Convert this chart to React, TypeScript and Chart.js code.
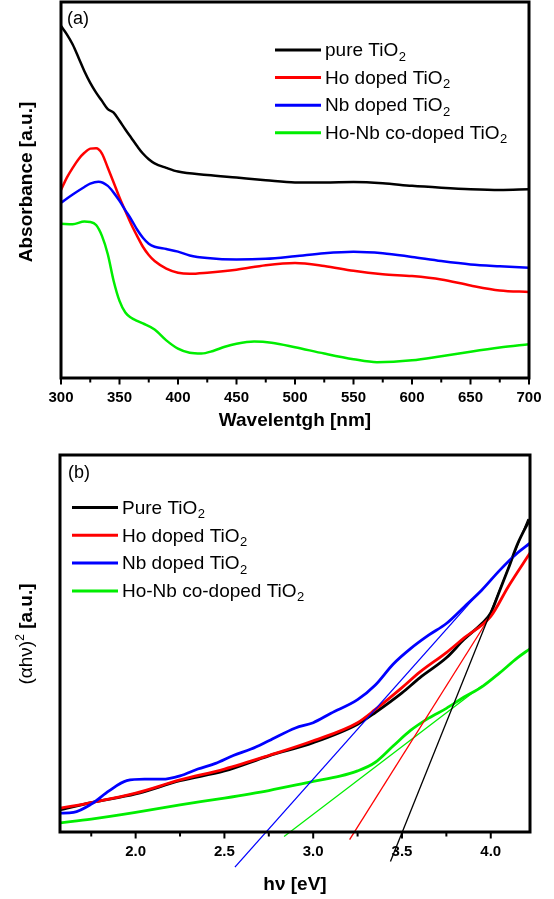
import React, { useEffect, useRef } from "react";
import { Chart, registerables } from "chart.js";

Chart.register(...registerables);

const FONT = "'Liberation Sans', Arial, Helvetica, sans-serif";

// ---------------- Panel (a): UV-Vis absorbance ----------------
const legendA = ["pure TiO", "Ho doped TiO", "Nb doped TiO", "Ho-Nb co-doped TiO"];

const wlPure = [300, 305, 310, 315, 320, 325, 330, 335, 340, 345, 350, 355, 360, 365, 370, 375, 380, 390, 400, 425, 450, 475, 500, 525, 550, 575, 600, 625, 650, 675, 700];
const absPure = [93.6, 91.4, 88.7, 85.2, 81.6, 78.5, 75.9, 73.7, 71.5, 70.6, 68.4, 66.1, 63.9, 61.7, 59.7, 58.2, 57.1, 55.9, 54.9, 54.0, 53.3, 52.6, 52.0, 52.0, 52.1, 51.8, 51.1, 50.6, 50.2, 50.0, 50.2];

const wlHo = [300, 305, 310, 315, 320, 325, 330, 335, 340, 345, 350, 355, 360, 365, 370, 375, 380, 390, 400, 410, 425, 450, 475, 500, 525, 550, 575, 600, 625, 650, 675, 700];
const absHo = [50.0, 53.3, 55.9, 58.2, 59.9, 61.0, 61.1, 59.7, 55.9, 52.0, 48.0, 44.4, 40.9, 37.8, 34.9, 32.7, 31.1, 29.1, 28.0, 27.7, 28.0, 28.8, 30.0, 30.6, 29.8, 28.5, 27.6, 27.1, 26.2, 24.6, 23.3, 22.9];

const wlNb = [300, 310, 320, 325, 332, 340, 345, 350, 355, 360, 365, 370, 375, 380, 390, 400, 410, 425, 450, 475, 500, 525, 550, 575, 600, 625, 650, 675, 700];
const absNb = [46.6, 48.8, 50.8, 51.7, 52.2, 51.1, 49.3, 47.1, 44.6, 42.2, 39.5, 37.3, 35.7, 34.9, 34.3, 33.6, 32.6, 31.9, 31.5, 31.7, 32.4, 33.2, 33.6, 33.2, 32.2, 31.1, 30.2, 29.7, 29.3];

const wlHoNb = [300, 310, 320, 325, 330, 335, 340, 345, 350, 355, 360, 365, 370, 380, 390, 400, 410, 420, 430, 440, 450, 465, 480, 500, 525, 550, 570, 600, 625, 650, 675, 700];
const absHoNb = [41.0, 40.9, 41.6, 41.5, 40.7, 37.8, 32.9, 25.8, 20.5, 17.4, 16.0, 15.2, 14.5, 12.9, 10.0, 7.8, 6.7, 6.5, 7.2, 8.3, 9.1, 9.7, 9.4, 8.2, 6.5, 5.0, 4.2, 4.7, 5.8, 7.0, 8.1, 9.0];

// ---------------- Panel (b): Tauc plot ----------------
const legendB = ["Pure TiO", "Ho doped TiO", "Nb doped TiO", "Ho-Nb co-doped TiO"];

const evPure = [1.574, 1.75, 2.0, 2.25, 2.5, 2.75, 3.0, 3.25, 3.35, 3.5, 3.6, 3.75, 3.85, 3.95, 4.0, 4.05, 4.1, 4.15, 4.221];
const tPure = [5.9, 7.8, 10.1, 13.6, 16.2, 20.2, 23.7, 28.6, 31.7, 36.9, 40.9, 46.2, 51.1, 55.3, 58.1, 64.0, 70.0, 76.3, 83.0];

const evHo = [1.574, 1.75, 2.0, 2.25, 2.5, 2.75, 3.0, 3.25, 3.35, 3.5, 3.6, 3.75, 3.85, 4.0, 4.1, 4.221];
const tHo = [6.3, 7.8, 10.3, 13.8, 16.7, 20.3, 24.2, 29.0, 32.5, 38.3, 42.4, 47.6, 51.5, 57.2, 65.2, 74.0];

const evNb = [1.574, 1.65, 1.75, 1.85, 1.95, 2.05, 2.15, 2.25, 2.35, 2.45, 2.55, 2.65, 2.75, 2.9, 3.0, 3.1, 3.25, 3.35, 3.45, 3.55, 3.65, 3.75, 3.85, 3.95, 4.05, 4.15, 4.221];
const tNb = [5.0, 5.2, 7.4, 10.9, 13.6, 14.0, 14.0, 14.9, 16.7, 18.2, 20.3, 22.0, 24.2, 27.6, 29.0, 31.5, 35.1, 39.0, 44.5, 48.7, 52.2, 55.3, 59.7, 64.2, 69.4, 74.0, 76.6];

const evHoNb = [1.574, 1.75, 2.0, 2.25, 2.5, 2.75, 3.0, 3.15, 3.25, 3.35, 3.45, 3.55, 3.65, 3.75, 3.85, 3.95, 4.05, 4.15, 4.221];
const tHoNb = [2.4, 3.4, 5.2, 7.2, 9.0, 11.0, 13.4, 14.8, 16.2, 18.5, 22.8, 27.0, 30.2, 32.8, 35.8, 38.5, 42.2, 46.2, 48.6];

// Linear band-gap extrapolation lines (start / end points)
const fitPureEv = [3.435, 4.21];
const fitPureT = [-7.8, 83.0];
const fitHoEv = [3.205, 4.0];
const fitHoT = [-2.0, 57.5];
const fitNbEv = [2.559, 3.9];
const fitNbT = [-9.3, 61.7];
const fitHoNbEv = [2.836, 3.95];
const fitHoNbT = [-1.2, 38.8];

const colors = ["#000000", "#ff0000", "#0000ff", "#00ee00"];

const pts = (xs: number[], ys: number[]) => xs.map((x, i) => ({ x, y: ys[i] }));

type Part = { text: string; font: string; dy: number };

function makeDecor(o: {
  label: string;
  labelX: number;
  labelY: number;
  legendX: number;
  legendY0: number;
  legendDy: number;
  names: string[];
  lineLen: number;
  minorStep: number;
  yTitle: Part[];
  yTitleX: number;
  yTitleY: number;
}) {
  return {
    id: "decor",
    afterDatasetsDraw(chart: any) {
      const ctx = chart.ctx as CanvasRenderingContext2D;
      const a = chart.chartArea;
      const xs = chart.scales.x;
      ctx.save();
      // tick marks (major from scale ticks, minor in between)
      ctx.strokeStyle = "#000";
      ctx.lineWidth = 2;
      ctx.lineCap = "butt";
      ctx.beginPath();
      const ticks = xs.ticks.map((t: any) => t.value);
      ticks.forEach((v: number) => {
        const px = xs.getPixelForValue(v);
        ctx.moveTo(px, a.bottom);
        ctx.lineTo(px, a.bottom + 6.5);
      });
      for (let v = ticks[0] - o.minorStep; v < xs.max + 1e-9; v += 2 * o.minorStep) {
        if (v < xs.min - 1e-9) continue;
        const px = xs.getPixelForValue(v);
        ctx.moveTo(px, a.bottom);
        ctx.lineTo(px, a.bottom + 4.5);
      }
      ctx.stroke();
      // frame
      ctx.lineWidth = 3;
      ctx.strokeRect(a.left, a.top, a.right - a.left, a.bottom - a.top);
      // panel label
      ctx.fillStyle = "#000";
      ctx.textBaseline = "middle";
      ctx.textAlign = "left";
      ctx.font = `18px ${FONT}`;
      ctx.fillText(o.label, o.labelX, o.labelY);
      // legend
      o.names.forEach((n, i) => {
        const y = o.legendY0 + i * o.legendDy;
        ctx.strokeStyle = colors[i];
        ctx.lineWidth = 3;
        ctx.beginPath();
        ctx.moveTo(o.legendX, y - 1);
        ctx.lineTo(o.legendX + o.lineLen, y - 1);
        ctx.stroke();
        ctx.fillStyle = "#000";
        ctx.font = `19px ${FONT}`;
        const tx = o.legendX + o.lineLen + 4;
        ctx.fillText(n, tx, y);
        const w = ctx.measureText(n).width;
        ctx.font = `13px ${FONT}`;
        ctx.fillText("2", tx + w + 0.5, y + 6);
      });
      // rotated y-axis title
      ctx.translate(o.yTitleX, o.yTitleY);
      ctx.rotate(-Math.PI / 2);
      let total = 0;
      o.yTitle.forEach((p) => {
        ctx.font = p.font;
        total += ctx.measureText(p.text).width;
      });
      let x = -total / 2;
      o.yTitle.forEach((p) => {
        ctx.font = p.font;
        ctx.fillText(p.text, x, p.dy);
        x += ctx.measureText(p.text).width;
      });
      ctx.restore();
    },
  };
}

const tickFont = { size: 15, weight: "bold" as const, family: FONT };
const titleFont = { size: 19, weight: "bold" as const, family: FONT };

export default function App() {
  const refA = useRef<HTMLCanvasElement | null>(null);
  const refB = useRef<HTMLCanvasElement | null>(null);

  useEffect(() => {
    Chart.defaults.font.family = FONT;
    const curve = (data: any, color: string, width: number, order: number) => ({
      data,
      borderColor: color,
      backgroundColor: color,
      borderWidth: width,
      pointRadius: 0,
      cubicInterpolationMode: "monotone" as const,
      fill: false,
      order,
    });
    const fitLine = (data: any, color: string) => ({
      data,
      borderColor: color,
      backgroundColor: color,
      borderWidth: 1.3,
      pointRadius: 0,
      tension: 0,
      fill: false,
      clip: false as any,
      order: 0,
    });
    const hiddenYTitle = { display: false };

    const chartA = new Chart(refA.current as HTMLCanvasElement, {
      type: "line",
      data: {
        datasets: [
          curve(pts(wlPure, absPure), colors[0], 2.5, 4),
          curve(pts(wlHo, absHo), colors[1], 2.5, 3),
          curve(pts(wlNb, absNb), colors[2], 2.5, 2),
          curve(pts(wlHoNb, absHoNb), colors[3], 2.5, 1),
        ],
      },
      options: {
        animation: false,
        responsive: false,
        devicePixelRatio: 1,
        events: [],
        layout: { padding: { left: 0, right: 25, top: 2, bottom: 0 } },
        plugins: { legend: { display: false }, tooltip: { enabled: false } },
        scales: {
          x: {
            type: "linear",
            min: 300,
            max: 700,
            grid: { display: false, drawTicks: false },
            border: { display: false },
            ticks: { stepSize: 50, padding: 11, color: "#000", font: tickFont, maxRotation: 0, autoSkip: false },
            title: { display: true, text: "Wavelentgh [nm]", color: "#000", font: titleFont, padding: { top: 0, bottom: 12.6 } },
            afterFit: (s: any) => { s.height = 67; },
          },
          y: {
            type: "linear",
            min: 0,
            max: 100,
            grid: { display: false, drawTicks: false },
            border: { display: false },
            ticks: { display: false },
            title: hiddenYTitle,
            afterFit: (s: any) => { s.width = 61; },
          },
        },
      },
      plugins: [
        makeDecor({
          label: "(a)", labelX: 67, labelY: 19,
          legendX: 275, legendY0: 51, legendDy: 27.6, names: legendA, lineLen: 46, minorStep: 25,
          yTitle: [{ text: "Absorbance [a.u.]", font: `bold 19px ${FONT}`, dy: 0 }],
          yTitleX: 26.5, yTitleY: 182,
        }),
      ],
    } as any);

    const chartB = new Chart(refB.current as HTMLCanvasElement, {
      type: "line",
      data: {
        datasets: [
          curve(pts(evPure, tPure), colors[0], 2.8, 4),
          curve(pts(evHo, tHo), colors[1], 2.8, 3),
          curve(pts(evNb, tNb), colors[2], 2.8, 2),
          curve(pts(evHoNb, tHoNb), colors[3], 2.8, 1),
          fitLine(pts(fitPureEv, fitPureT), colors[0]),
          fitLine(pts(fitHoEv, fitHoT), colors[1]),
          fitLine(pts(fitNbEv, fitNbT), colors[2]),
          fitLine(pts(fitHoNbEv, fitHoNbT), colors[3]),
        ],
      },
      options: {
        animation: false,
        responsive: false,
        devicePixelRatio: 1,
        events: [],
        layout: { padding: { left: 0, right: 24, top: 10, bottom: 0 } },
        plugins: { legend: { display: false }, tooltip: { enabled: false } },
        scales: {
          x: {
            type: "linear",
            min: 1.574,
            max: 4.221,
            grid: { display: false, drawTicks: false },
            border: { display: false },
            ticks: {
              stepSize: 0.5,
              includeBounds: false,
              padding: 11,
              color: "#000",
              font: tickFont,
              maxRotation: 0,
              autoSkip: false,
              callback: (v: any) => Number(v).toFixed(1),
            },
            title: { display: true, text: "hν [eV]", color: "#000", font: titleFont, padding: { top: 0, bottom: 2.6 } },
            afterFit: (s: any) => { s.height = 67; },
          },
          y: {
            type: "linear",
            min: 0,
            max: 100,
            grid: { display: false, drawTicks: false },
            border: { display: false },
            ticks: { display: false },
            title: hiddenYTitle,
            afterFit: (s: any) => { s.width = 60; },
          },
        },
      },
      plugins: [
        makeDecor({
          label: "(b)", labelX: 68, labelY: 28,
          legendX: 72, legendY0: 63.5, legendDy: 27.8, names: legendB, lineLen: 46, minorStep: 0.25,
          yTitle: [
            { text: "(αhν)", font: `19px ${FONT}`, dy: 0 },
            { text: "2", font: `12px ${FONT}`, dy: -6 },
            { text: " [a.u.]", font: `bold 19px ${FONT}`, dy: 0 },
          ],
          yTitleX: 26.5, yTitleY: 189,
        }),
      ],
    } as any);

    return () => {
      chartA.destroy();
      chartB.destroy();
    };
  }, []);

  return (
    <div style={{ position: "absolute", left: 0, top: 0, width: 554, height: 899, background: "#fff" }}>
      <canvas ref={refA} width={554} height={445} style={{ display: "block", width: 554, height: 445 }} />
      <canvas ref={refB} width={554} height={454} style={{ display: "block", width: 554, height: 454 }} />
    </div>
  );
}
